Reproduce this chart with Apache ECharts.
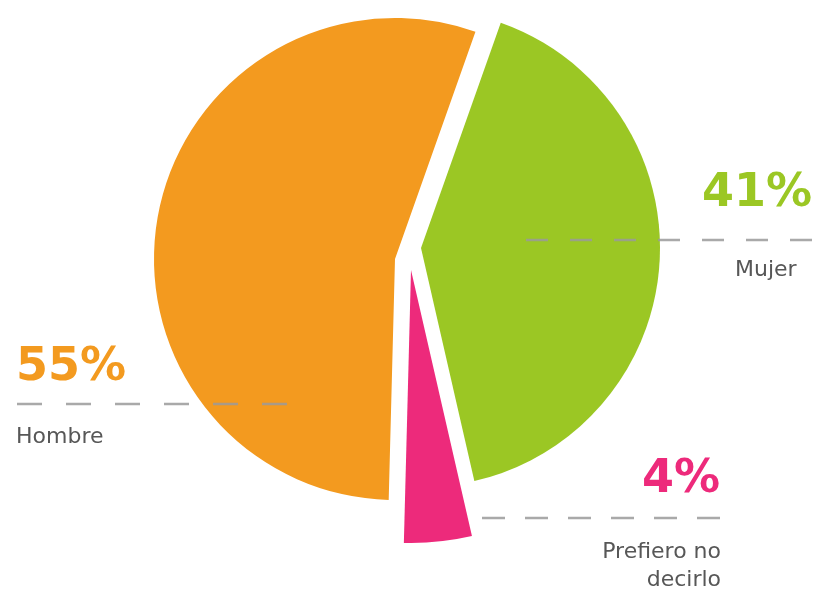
<!DOCTYPE html>
<html>
<head>
<meta charset="utf-8">
<script src="https://cdn.jsdelivr.net/npm/echarts@6/dist/echarts.min.js"></script>
<style>
html,body{margin:0;padding:0;background:#fff;}
#chart{width:816px;height:591px;}
</style>
</head>
<body>
<div id="chart"></div>
<script>
// ---- data ----
var categories = ['Mujer', 'Prefiero no decirlo', 'Hombre'];
var values = [41, 4, 55];
var nameLines = [['Mujer'], ['Prefiero no', 'decirlo'], ['Hombre']];
var colors = ['#9BC724', '#ED2A7B', '#F39A1F'];

// ---- layout (per slice, exploded pie) ----
var sliceCenters = [[421, 248], [411, 270], [395, 259]];
var sliceRadius = [239, 273, 241];
var startAngle = 70.5;

var chart = echarts.init(document.getElementById('chart'), null, {renderer: 'canvas'});

var series = categories.map(function (cat, k) {
  return {
    type: 'pie',
    center: sliceCenters[k],
    radius: sliceRadius[k],
    startAngle: startAngle,
    clockwise: true,
    silent: true,
    animation: false,
    label: {show: false},
    labelLine: {show: false},
    data: categories.map(function (c, i) {
      return {
        name: c,
        value: values[i],
        itemStyle: {color: i === k ? colors[i] : 'rgba(0,0,0,0)', borderWidth: 0}
      };
    })
  };
});

// label layout (positions only)
var labelLayout = [
  {pctX: 812, pctY: 194, pctAlign: 'right', lineX1: 526, lineX2: 812, lineY: 240, dash: [22, 22], nameX: 735, nameAlign: 'left', nameY: 270},
  {pctX: 720, pctY: 480, pctAlign: 'right', lineX1: 482, lineX2: 723, lineY: 518, dash: [23, 20], nameX: 721, nameAlign: 'right', nameY: 552},
  {pctX: 16, pctY: 368, pctAlign: 'left', lineX1: 17, lineX2: 288, lineY: 404, dash: [25, 24], nameX: 16, nameAlign: 'left', nameY: 437}
];

var graphics = [];
categories.forEach(function (c, i) {
  var L = labelLayout[i];
  graphics.push({
    type: 'text', z: 100, x: L.pctX, y: L.pctY,
    style: {
      text: values[i] + '%', fill: colors[i],
      font: 'bold 46px "DejaVu Sans"', align: L.pctAlign, verticalAlign: 'middle'
    }
  });
  graphics.push({
    type: 'line', z: 100,
    shape: {x1: L.lineX1, y1: L.lineY, x2: L.lineX2, y2: L.lineY},
    style: {stroke: '#9a9a9a', lineWidth: 2.5, lineDash: L.dash, opacity: 0.85}
  });
  nameLines[i].forEach(function (t, j) {
    graphics.push({
      type: 'text', z: 100, x: L.nameX, y: L.nameY + j * 28,
      style: {
        text: t, fill: '#575757',
        font: '22px "DejaVu Sans"', align: L.nameAlign, verticalAlign: 'middle'
      }
    });
  });
});

chart.setOption({
  backgroundColor: '#ffffff',
  animation: false,
  series: series,
  graphic: graphics
});
</script>
</body>
</html>
